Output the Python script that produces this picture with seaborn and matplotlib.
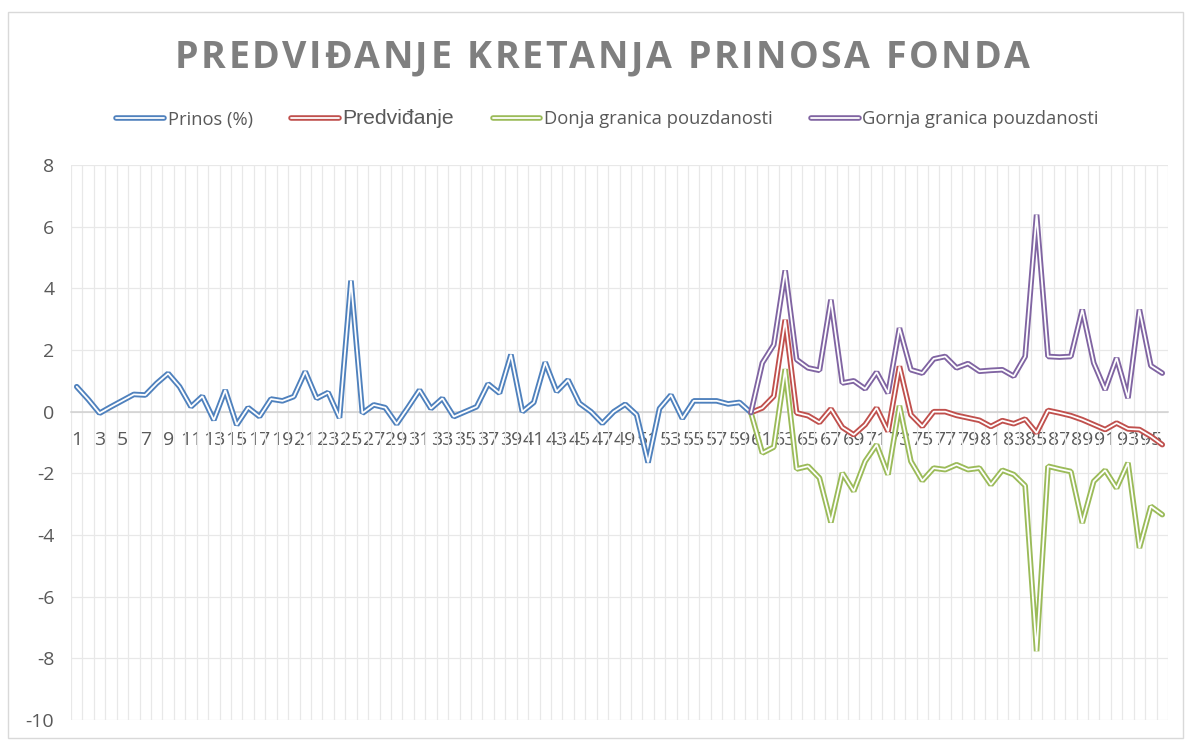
import matplotlib
matplotlib.use("Agg")
import matplotlib.pyplot as plt
from matplotlib.lines import Line2D
from matplotlib.legend_handler import HandlerTuple
from matplotlib.patches import Rectangle
import pandas as pd
import seaborn as sns

# Historical returns (periods 1-60)
periods_hist = list(range(1, 61))
prinos = [0.81, 0.40, -0.05, 0.16, 0.36, 0.56, 0.54, 0.92, 1.24, 0.81,
          0.16, 0.50, -0.27, 0.70, -0.43, 0.13, -0.16, 0.41, 0.35, 0.49,
          1.30, 0.43, 0.62, -0.20, 4.25, -0.05, 0.22, 0.13, -0.40, 0.14,
          0.70, 0.10, 0.43, -0.16, 0.00, 0.16, 0.90, 0.60, 1.85, 0.00,
          0.30, 1.60, 0.65, 1.03, 0.27, 0.00, -0.38, 0.00, 0.24, -0.10,
          -1.65, 0.10, 0.54, -0.22, 0.35, 0.35, 0.35, 0.25, 0.30, -0.03]

# Forecast with confidence bounds (periods 60-96)
periods_fc = list(range(60, 97))
predvidjanje = [-0.03, 0.12, 0.50, 2.98, -0.04, -0.13, -0.35, 0.09, -0.51, -0.75,
                -0.42, 0.12, -0.64, 1.47, -0.10, -0.48, 0.00, 0.00, -0.12, -0.20,
                -0.28, -0.48, -0.29, -0.39, -0.24, -0.69, 0.04, -0.04, -0.13, -0.26,
                -0.42, -0.58, -0.37, -0.56, -0.58, -0.80, -1.07]
donja = [-0.03, -1.34, -1.15, 1.38, -1.86, -1.77, -2.15, -3.59, -1.99, -2.58,
         -1.61, -1.07, -2.04, 0.19, -1.61, -2.24, -1.83, -1.88, -1.72, -1.88,
         -1.83, -2.37, -1.90, -2.04, -2.40, -7.77, -1.77, -1.86, -1.94, -3.61,
         -2.26, -1.90, -2.48, -1.66, -4.42, -3.07, -3.34]
gornja = [-0.03, 1.58, 2.17, 4.58, 1.69, 1.42, 1.34, 3.63, 0.93, 1.00,
          0.74, 1.28, 0.60, 2.71, 1.36, 1.25, 1.71, 1.79, 1.42, 1.56,
          1.31, 1.34, 1.36, 1.15, 1.79, 6.39, 1.79, 1.77, 1.79, 3.31,
          1.58, 0.71, 1.74, 0.44, 3.31, 1.49, 1.25]

series_names = ["Prinos (%)", "Predviđanje", "Donja granica pouzdanosti",
                "Gornja granica pouzdanosti"]
colors = ["#4F81BD", "#C0504D", "#9BBB59", "#8064A2"]
x_tick_values = list(range(1, 96, 2))
x_tick_labels = [str(v) for v in x_tick_values]
y_tick_values = list(range(-10, 9, 2))
title_text = "PREDVIĐANJE KRETANJA PRINOSA FONDA"

sns.set_theme(style="white")
plt.rcParams["font.family"] = ["Open Sans", "DejaVu Sans"]
plt.rcParams["axes.unicode_minus"] = False

W, H = 1187, 740
fig = plt.figure(figsize=(W / 100, H / 100), dpi=100)
fig.patch.set_facecolor("white")

# light chart-area frame
fig.add_artist(Rectangle((8 / W, 2 / H), 1175 / W, 726 / H, transform=fig.transFigure,
                         fill=False, edgecolor="#D9D9D9", linewidth=1.0))

x0, x1, y_top, y_bot = 71, 1168, 165, 720
ax = fig.add_axes([x0 / W, 1 - y_bot / H, (x1 - x0) / W, (y_bot - y_top) / H])

frames = [
    pd.DataFrame({"period": periods_hist, "value": prinos}),
    pd.DataFrame({"period": periods_fc, "value": predvidjanje}),
    pd.DataFrame({"period": periods_fc, "value": donja}),
    pd.DataFrame({"period": periods_fc, "value": gornja}),
]

# compound (double) lines: thick coloured stroke with a thin white core
outer_lw, inner_lw = 4.0, 1.3
for df, c in zip(frames, colors):
    sns.lineplot(data=df, x="period", y="value", color=c, linewidth=outer_lw,
                 ax=ax, legend=False, solid_joinstyle="bevel", zorder=3)
    sns.lineplot(data=df, x="period", y="value", color="white", linewidth=inner_lw,
                 ax=ax, legend=False, solid_joinstyle="bevel", zorder=3)

ax.set_xlim(0.5, 96.5)
ax.set_ylim(-10, 8)
ax.set_xlabel("")
ax.set_ylabel("")

# gridlines: horizontal at value ticks, vertical at category boundaries
grid_c = "#E8E8E8"
for yv in y_tick_values:
    ax.axhline(yv, color=grid_c, linewidth=0.9, zorder=1)
for k in range(0, 97):
    ax.axvline(k + 0.5, color=grid_c, linewidth=0.9, zorder=1)

for side in ["top", "right", "left"]:
    ax.spines[side].set_visible(False)
ax.spines["bottom"].set_position(("data", 0))
ax.spines["bottom"].set_color("#D0D0D0")
ax.spines["bottom"].set_linewidth(1.1)
ax.spines["bottom"].set_zorder(2)

label_c = "#595959"
ax.set_xticks(x_tick_values)
ax.set_xticklabels(x_tick_labels)
ax.set_yticks(y_tick_values)
ax.set_yticklabels([str(v) for v in y_tick_values])
ax.tick_params(axis="x", length=0, pad=14, labelsize=14, labelcolor=label_c)
ax.tick_params(axis="y", length=0, pad=12, labelsize=14, labelcolor=label_c)

# letter-spaced title, laid out glyph by glyph
renderer = fig.canvas.get_renderer()
title_kw = dict(fontsize=27, fontweight="bold", color="#7F7F7F", va="center", ha="left")
glyphs = [fig.text(0, 0, ch, **title_kw) for ch in title_text]
widths = []
for g, ch in zip(glyphs, title_text):
    if ch == " ":
        widths.append(11.0)
    else:
        widths.append(g.get_window_extent(renderer).width)
target_w = 855.0
spacing = (target_w - sum(widths)) / (len(title_text) - 1)
cx = 602.5 - target_w / 2
for g, w in zip(glyphs, widths):
    g.set_position((cx / W, 1 - 58 / H))
    cx += w + spacing

handles = [(Line2D([], [], color=c, linewidth=outer_lw),
            Line2D([], [], color="white", linewidth=inner_lw)) for c in colors]
leg = fig.legend(handles, series_names, loc="center", bbox_to_anchor=(607.5 / W, 1 - 119 / H),
                 ncol=4, frameon=False, fontsize=13.2, handlelength=2.6, handletextpad=0.2,
                 columnspacing=2.1, handler_map={tuple: HandlerTuple(ndivide=1)})
for t in leg.get_texts():
    t.set_color(label_c)
leg.get_texts()[1].set_fontfamily(["Liberation Sans", "DejaVu Sans"])
leg.get_texts()[1].set_fontsize(15.2)

fig.savefig("out.png", dpi=100, facecolor="white")
